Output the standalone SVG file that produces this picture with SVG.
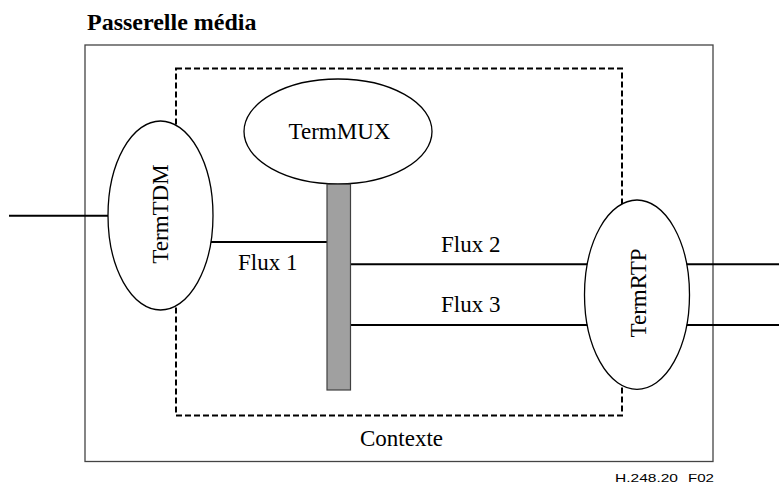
<svg xmlns="http://www.w3.org/2000/svg" width="779" height="486" viewBox="0 0 779 486">
<style>
.t{font-family:"Liberation Serif","Times New Roman",serif;font-size:23px;fill:#000}
.title{font-family:"Liberation Serif","Times New Roman",serif;font-size:24px;font-weight:bold;fill:#000}
.ref{font-family:"Liberation Sans",Arial,sans-serif;font-size:11.5px;fill:#000}
.node{fill:#fff;stroke:#000;stroke-width:1.3}
.ln{stroke:#000;stroke-width:2;fill:none}
</style>
<rect width="779" height="486" fill="#fff"/>
<text class="title" x="87" y="30">Passerelle média</text>
<g id="gateway">
<rect x="85" y="45" width="628" height="416.5" fill="none" stroke="#444" stroke-width="1.3"/>
</g>
<g id="context">
<rect x="176" y="68.5" width="446" height="347" fill="none" stroke="#000" stroke-width="2" stroke-dasharray="6 3"/>
<text class="t" x="401.5" y="446" text-anchor="middle">Contexte</text>
</g>
<g id="connectors">
<line class="ln" x1="9" y1="215.7" x2="108.5" y2="215.7"/>
<line class="ln" x1="211" y1="242" x2="327" y2="242"/>
<line class="ln" x1="350.5" y1="264.3" x2="590" y2="264.3"/>
<line class="ln" x1="350.5" y1="325" x2="590" y2="325"/>
<line class="ln" x1="686" y1="264.3" x2="779" y2="264.3"/>
<line class="ln" x1="686" y1="325" x2="779" y2="325"/>
<text class="t" x="238" y="270">Flux 1</text>
<text class="t" x="441" y="251.7">Flux 2</text>
<text class="t" x="441" y="312.3">Flux 3</text>
</g>
<g id="TermMUX">
<ellipse class="node" cx="338" cy="131.5" rx="94" ry="52.5"/>
<text class="t" x="339.5" y="139.3" text-anchor="middle">TermMUX</text>
</g>
<g id="mux-bar">
<rect x="327" y="184.3" width="23.5" height="205.7" fill="#a0a0a0" stroke="#404040" stroke-width="1.2"/>
</g>
<g id="TermTDM">
<ellipse class="node" cx="160.5" cy="215.5" rx="52.5" ry="94.5"/>
<text class="t" x="168.3" y="214" text-anchor="middle" transform="rotate(-90 168.3 214)">TermTDM</text>
</g>
<g id="TermRTP">
<ellipse class="node" cx="637" cy="294.7" rx="52.5" ry="94.7"/>
<text class="t" x="645.5" y="293" text-anchor="middle" transform="rotate(-90 645.5 293)">TermRTP</text>
</g>
<text class="ref" y="482.3"><tspan x="615" textLength="63" lengthAdjust="spacingAndGlyphs">H.248.20</tspan> <tspan x="688" textLength="26" lengthAdjust="spacingAndGlyphs">F02</tspan></text>
</svg>
